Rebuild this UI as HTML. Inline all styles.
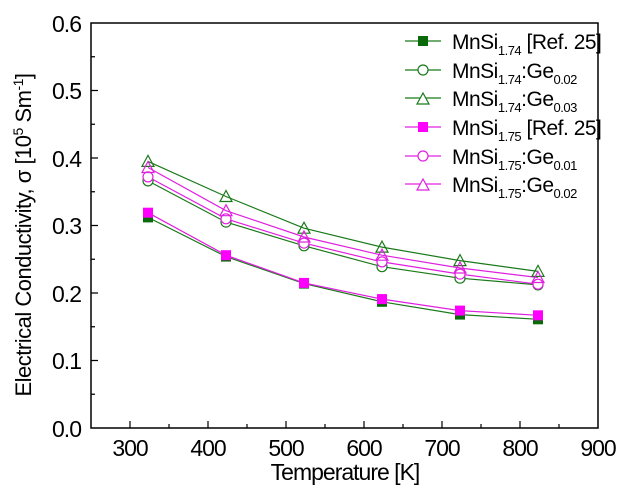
<!DOCTYPE html>
<html><head><style>body{margin:0;background:#fff}svg{display:block}text{font-family:"Liberation Sans",sans-serif;fill:#000}</style></head><body>
<svg width="625" height="495" viewBox="0 0 625 495">
<rect x="91" y="23" width="507" height="405" fill="none" stroke="#000" stroke-width="1.5"/>
<g stroke="#000" stroke-width="1.2">
<path d="M130 428v-7M169 428v-4M208 428v-7M247 428v-4M286 428v-7M325 428v-4M364 428v-7M403 428v-4M442 428v-7M481 428v-4M520 428v-7M559 428v-4"/>
<path d="M91 360.5h7M91 293h7M91 225.5h7M91 158h7M91 90.5h7M91 394.25h4M91 326.75h4M91 259.25h4M91 191.75h4M91 124.25h4M91 56.75h4"/>
</g>
<g font-size="23" text-anchor="end" letter-spacing="-1">
<text x="81" y="437">0.0</text><text x="81" y="369">0.1</text><text x="81" y="302">0.2</text><text x="81" y="234">0.3</text><text x="81" y="167">0.4</text><text x="81" y="99">0.5</text><text x="81" y="32">0.6</text>
</g>
<g font-size="23" text-anchor="middle" letter-spacing="-1">
<text x="130" y="456">300</text><text x="208" y="456">400</text><text x="286" y="456">500</text><text x="364" y="456">600</text><text x="442" y="456">700</text><text x="520" y="456">800</text><text x="598" y="456">900</text>
<text x="345" y="480">Temperature [K]</text>
</g>
<text font-size="22" text-anchor="middle" letter-spacing="-0.5" transform="translate(31,235) rotate(-90)">Electrical Conductivity, σ [10<tspan font-size="14" dy="-8">5</tspan><tspan dy="8"> Sm</tspan><tspan font-size="14" dy="-8">-1</tspan><tspan dy="8">]</tspan></text>
<defs>
<rect id="sq" x="-5" y="-5" width="10" height="10"/>
<circle id="ci" r="5"/>
<path id="tr" d="M0-6L6 5H-6Z"/>
</defs>
<g fill="none" stroke-width="1.2">
<polyline stroke="#1a7a1a" points="148,217.4 226,256.6 304,283.6 382,301.8 460,314.6 538,319.3"/>
<polyline stroke="#e020e0" points="148,212.7 226,255.2 304,282.9 382,299.1 460,310.6 538,315.3"/>
<polyline stroke="#1a7a1a" points="148,180.9 226,222.1 304,245.8 382,266.7 460,278.2 538,284.9"/>
<polyline stroke="#e020e0" points="148,176.9 226,218.8 304,243.1 382,261.9 460,274.1 538,284.2"/>
<polyline stroke="#1a7a1a" points="148,161.4 226,196.5 304,228.2 382,247.1 460,260.6 538,271.4"/>
<polyline stroke="#e020e0" points="148,167.5 226,210.7 304,237.0 382,255.2 460,268.0 538,277.5"/>
</g>
<g fill="#0a6a0a"><use href="#sq" x="148" y="217.4"/><use href="#sq" x="226" y="256.6"/><use href="#sq" x="304" y="283.6"/><use href="#sq" x="382" y="301.8"/><use href="#sq" x="460" y="314.6"/><use href="#sq" x="538" y="319.3"/></g>
<g fill="#ff00ff"><use href="#sq" x="148" y="212.7"/><use href="#sq" x="226" y="255.2"/><use href="#sq" x="304" y="282.9"/><use href="#sq" x="382" y="299.1"/><use href="#sq" x="460" y="310.6"/><use href="#sq" x="538" y="315.3"/></g>
<g fill="#fff" stroke="#1a7a1a" stroke-width="1.2"><use href="#ci" x="148" y="180.9"/><use href="#ci" x="226" y="222.1"/><use href="#ci" x="304" y="245.8"/><use href="#ci" x="382" y="266.7"/><use href="#ci" x="460" y="278.2"/><use href="#ci" x="538" y="284.9"/></g>
<g fill="#fff" stroke="#e020e0" stroke-width="1.2"><use href="#ci" x="148" y="176.9"/><use href="#ci" x="226" y="218.8"/><use href="#ci" x="304" y="243.1"/><use href="#ci" x="382" y="261.9"/><use href="#ci" x="460" y="274.1"/><use href="#ci" x="538" y="284.2"/></g>
<g fill="none" stroke="#1a7a1a" stroke-width="1.2"><use href="#tr" x="148" y="161.4"/><use href="#tr" x="226" y="196.5"/><use href="#tr" x="304" y="228.2"/><use href="#tr" x="382" y="247.1"/><use href="#tr" x="460" y="260.6"/><use href="#tr" x="538" y="271.4"/></g>
<g fill="none" stroke="#e020e0" stroke-width="1.2"><use href="#tr" x="148" y="167.5"/><use href="#tr" x="226" y="210.7"/><use href="#tr" x="304" y="237.0"/><use href="#tr" x="382" y="255.2"/><use href="#tr" x="460" y="268.0"/><use href="#tr" x="538" y="277.5"/></g>
<g stroke-width="1.2">
<path d="M405 41h36" stroke="#1a7a1a"/><use href="#sq" x="423" y="41" fill="#0a6a0a"/>
<path d="M405 70h36" stroke="#1a7a1a"/><use href="#ci" x="423" y="70" fill="#fff" stroke="#1a7a1a"/>
<path d="M405 98h36" stroke="#1a7a1a"/><use href="#tr" x="423" y="99" fill="#fff" stroke="#1a7a1a"/>
<path d="M405 127h36" stroke="#e020e0"/><use href="#sq" x="423" y="127" fill="#ff00ff"/>
<path d="M405 156h36" stroke="#e020e0"/><use href="#ci" x="423" y="156" fill="#fff" stroke="#e020e0"/>
<path d="M405 184h36" stroke="#e020e0"/><use href="#tr" x="423" y="185" fill="#fff" stroke="#e020e0"/>
</g>
<g font-size="21" letter-spacing="-0.5">
<text x="452" y="49">MnSi<tspan font-size="13" dy="6">1.74</tspan><tspan dy="-6"> [Ref. 25]</tspan></text>
<text x="452" y="78">MnSi<tspan font-size="13" dy="6">1.74</tspan><tspan dy="-6">:Ge</tspan><tspan font-size="13" dy="6">0.02</tspan></text>
<text x="452" y="106">MnSi<tspan font-size="13" dy="6">1.74</tspan><tspan dy="-6">:Ge</tspan><tspan font-size="13" dy="6">0.03</tspan></text>
<text x="452" y="135">MnSi<tspan font-size="13" dy="6">1.75</tspan><tspan dy="-6"> [Ref. 25]</tspan></text>
<text x="452" y="164">MnSi<tspan font-size="13" dy="6">1.75</tspan><tspan dy="-6">:Ge</tspan><tspan font-size="13" dy="6">0.01</tspan></text>
<text x="452" y="192">MnSi<tspan font-size="13" dy="6">1.75</tspan><tspan dy="-6">:Ge</tspan><tspan font-size="13" dy="6">0.02</tspan></text>
</g>
</svg>
</body></html>
